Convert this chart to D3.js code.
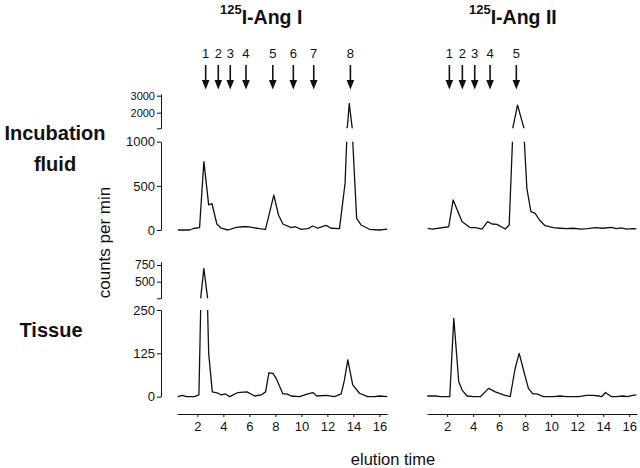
<!DOCTYPE html>
<html>
<head>
<meta charset="utf-8">
<script src="https://cdn.jsdelivr.net/npm/d3@7"></script>
<style>
body { margin: 0; background: #fff; }
svg { display: block; font-family: 'Liberation Sans', Arial, sans-serif; }
</style>
</head>
<body>
<div id="chart"></div>
<script>
//elution time ticks and y tick values
const ticksX = [2, 4, 6, 8, 10, 12, 14, 16];
const fluidTicksLow = [0, 500, 1000];
const fluidTicksHigh = [2000, 3000];
const tissueTicksLow = [0, 125, 250];
const tissueTicksHigh = [500, 750];

//arrow positions (elution time) and their labels
const arrowsAngI = [2.64, 3.61, 4.53, 5.74, 7.8, 9.38, 10.95, 13.77];
const arrowsAngII = [2.17, 3.17, 4.12, 5.3, 7.32];

//incubation fluid, 125I-Ang I
const timeFluidI = [0.5, 1.4, 1.8, 2.17, 2.5, 2.87, 3.12, 3.5, 3.84, 4.35, 4.99, 5.5, 5.88, 6.78, 7.24, 7.88, 8.24, 8.58, 9.22, 9.55, 9.98, 10.5, 10.88, 11.26, 11.9, 12.29, 12.93, 13.36, 13.55, 13.68, 13.9, 14.25, 14.59, 15.23, 16.0, 16.6];
const cpmFluidI = [0, 0, 20, 26, 775, 285, 300, 68, 20, 0, 30, 37, 37, 15, 8, 396, 170, 68, 26, 37, 8, 15, 45, 20, 53, 20, 15, 528, 1250, 2550, 1150, 132, 57, 8, 0, 11];

//incubation fluid, 125I-Ang II
const timeFluidII = [0.5, 0.85, 2.12, 2.46, 3.15, 3.79, 4.17, 4.68, 5.11, 5.45, 5.83, 6.47, 6.77, 7.41, 8.13, 8.44, 8.77, 9.1, 9.53, 10.17, 10.68, 11.2, 11.7, 12.3, 12.8, 13.36, 14.0, 14.64, 15.0, 15.4, 15.8, 16.3, 16.55];
const cpmFluidII = [18, 11, 37, 340, 94, 26, 26, 11, 94, 68, 64, 11, 57, 2450, 472, 208, 189, 113, 49, 26, 20, 15, 20, 11, 15, 26, 20, 30, 15, 23, 11, 15, 12];

//tissue, 125I-Ang I
const timeTissueI = [0.5, 0.84, 1.15, 1.79, 2.12, 2.5, 2.87, 3.15, 3.59, 3.84, 4.17, 4.48, 5.12, 5.81, 6.41, 6.91, 7.25, 7.5, 7.81, 8.06, 8.58, 8.88, 9.22, 9.86, 10.5, 10.88, 11.19, 11.9, 12.55, 13.06, 13.31, 13.57, 13.95, 14.47, 15.1, 15.6, 16.0, 16.6];
const cpmTissueI = [0, 4, 0, 0, 5, 700, 125, 14, 10, 5, 8, 0, 12, 14, 2, 5, 14, 69, 67, 53, 8, 8, 2, 0, 8, 12, 2, 4, 0, 8, 48, 106, 34, 10, 0, 0, 2, 0];

//tissue, 125I-Ang II
const timeTissueII = [0.47, 1.1, 1.49, 2.2, 2.51, 2.89, 3.15, 3.53, 4.04, 4.55, 5.19, 5.7, 6.34, 6.85, 7.23, 7.54, 7.87, 8.25, 8.59, 8.9, 9.4, 10.17, 10.68, 11.2, 12.1, 12.73, 13.24, 13.7, 13.88, 14.18, 14.64, 15.0, 15.53, 15.9, 16.25, 16.55];
const cpmTissueII = [2, 2, 0, 0, 226, 43, 19, 2, 0, 0, 24, 14, 5, 0, 82, 125, 77, 24, 8, 8, 0, 0, 2, 0, 0, 4, 4, 2, 0, 12, 0, 0, 2, 0, 4, 5];

const width = 640, height = 468;
const ink = '#111';

const svg = d3.select('#chart')
    .append('svg')
    .attr('width', width)
    .attr('height', height);

//x scales, one per column
const xDomain = [0.45, 16.6];
const xLeft = d3.scaleLinear().domain(xDomain).range([177.2, 387.2]);
const xRight = d3.scaleLinear().domain(xDomain).range([427, 637]);

//broken y scales: a low segment and a compressed high segment
const yFluidLow = d3.scaleLinear().domain([0, 1000]).range([230, 141.7]);
const yFluidHigh = d3.scaleLinear().domain([1080, 3100]).range([128.3, 94]);
const yTissueLow = d3.scaleLinear().domain([0, 250]).range([396.7, 310]);
const yTissueHigh = d3.scaleLinear().domain([250, 800]).range([298.3, 261.7]);

let clipCount = 0;

//draw one trace clipped into both segments of the broken axis
function drawTrace(x, yLow, yHigh, times, counts) {
    let pts = times.map(function(t, i) { return [t, counts[i]]; });
    [yLow, yHigh].forEach(function(y) {
        let id = 'clip-' + (clipCount++);
        let r = y.range();
        let top = Math.min(r[0], r[1]);
        let bottom = Math.max(r[0], r[1]);
        if (y === yLow) bottom += 10; else top -= 6;
        svg.append('clipPath').attr('id', id)
            .append('rect')
            .attr('x', x.range()[0] - 3)
            .attr('y', top)
            .attr('width', x.range()[1] - x.range()[0] + 6)
            .attr('height', bottom - top);
        let line = d3.line()
            .x(function(d) { return x(d[0]); })
            .y(function(d) { return y(d[1]); });
        svg.append('path')
            .datum(pts)
            .attr('clip-path', `url(#${id})`)
            .attr('fill', 'none')
            .attr('stroke', ink)
            .attr('stroke-width', 1.3)
            .attr('stroke-linejoin', 'round')
            .attr('d', line);
    });
}

drawTrace(xLeft, yFluidLow, yFluidHigh, timeFluidI, cpmFluidI);
drawTrace(xRight, yFluidLow, yFluidHigh, timeFluidII, cpmFluidII);
drawTrace(xLeft, yTissueLow, yTissueHigh, timeTissueI, cpmTissueI);
drawTrace(xRight, yTissueLow, yTissueHigh, timeTissueII, cpmTissueII);

//style an axis group
function styleAxis(g, size) {
    g.selectAll('path, line').attr('stroke', ink).attr('stroke-width', 1);
    g.selectAll('text').attr('fill', ink).style('font-size', size + 'px')
        .style('font-family', "'Liberation Sans', Arial, sans-serif");
}

//y axes on the left column only
function yAxis(scale, values, labelled, size) {
    let g = svg.append('g')
        .attr('transform', 'translate(161,0)')
        .call(d3.axisLeft(scale)
            .tickValues(values)
            .tickSize(4)
            .tickSizeOuter(0)
            .tickPadding(2)
            .tickFormat(function(d) { return labelled.includes(d) ? d : ''; }));
    styleAxis(g, size);
}
yAxis(yFluidLow, fluidTicksLow, fluidTicksLow, 13);
yAxis(yFluidHigh, [yFluidHigh.domain()[0]].concat(fluidTicksHigh), fluidTicksHigh, 11);
yAxis(yTissueLow, tissueTicksLow, tissueTicksLow, 13);
yAxis(yTissueHigh, [yTissueHigh.domain()[0]].concat(tissueTicksHigh), tissueTicksHigh, 12);

//x axes under the tissue panels
[xLeft, xRight].forEach(function(x) {
    let g = svg.append('g')
        .attr('transform', 'translate(0,414)')
        .call(d3.axisBottom(x).tickValues(ticksX).tickSize(3).tickSizeOuter(0).tickPadding(5));
    styleAxis(g, 13);
});

//arrows marking the standards
function drawArrows(x, positions) {
    let g = svg.append('g');
    positions.forEach(function(p, i) {
        let cx = x(p);
        g.append('text')
            .attr('x', cx).attr('y', 58)
            .attr('text-anchor', 'middle')
            .style('font-size', '13px')
            .attr('fill', ink)
            .text(i + 1);
        g.append('line')
            .attr('x1', cx).attr('x2', cx)
            .attr('y1', 65).attr('y2', 82)
            .attr('stroke', ink).attr('stroke-width', 1.6);
        g.append('path')
            .attr('d', `M${cx - 3.8},80L${cx + 3.8},80L${cx},89.5Z`)
            .attr('fill', ink);
    });
}
drawArrows(xLeft, arrowsAngI);
drawArrows(xRight, arrowsAngII);

//titles with superscript isotope
function title(x, label) {
    let t = svg.append('text')
        .attr('x', x).attr('y', 24)
        .attr('fill', ink)
        .style('font-weight', 'bold');
    t.append('tspan').attr('dy', -10).style('font-size', '13px').text('125');
    t.append('tspan').attr('dy', 10).style('font-size', '19.5px').text(label);
}
title(220, 'I-Ang I');
title(469, 'I-Ang II');

//row labels
svg.append('text').attr('x', 55).attr('y', 140).attr('text-anchor', 'middle')
    .style('font-size', '20px').style('font-weight', 'bold').attr('fill', ink).text('Incubation');
svg.append('text').attr('x', 55).attr('y', 171).attr('text-anchor', 'middle')
    .style('font-size', '20px').style('font-weight', 'bold').attr('fill', ink).text('fluid');
svg.append('text').attr('x', 51).attr('y', 337).attr('text-anchor', 'middle')
    .style('font-size', '20px').style('font-weight', 'bold').attr('fill', ink).text('Tissue');

//axis titles
svg.append('text')
    .attr('transform', 'translate(109.5,242.5) rotate(-90)')
    .attr('text-anchor', 'middle')
    .style('font-size', '17px').attr('fill', ink)
    .text('counts per min');
svg.append('text')
    .attr('x', 393).attr('y', 465)
    .attr('text-anchor', 'middle')
    .style('font-size', '16.5px').attr('fill', ink)
    .text('elution time');
</script>
</body>
</html>
